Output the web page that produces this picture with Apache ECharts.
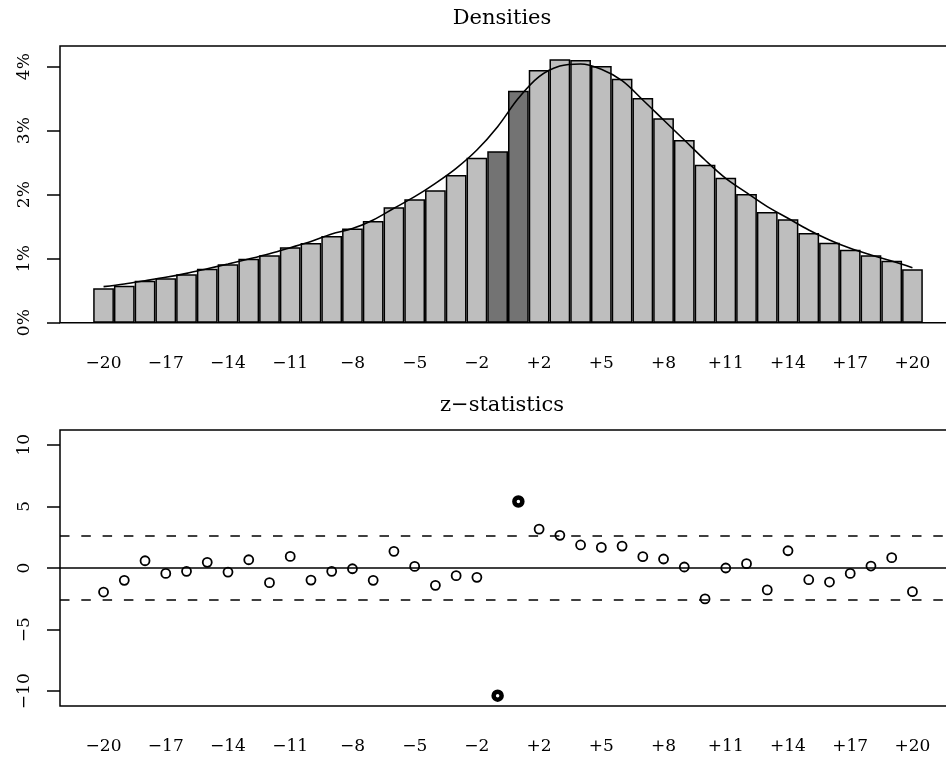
<!DOCTYPE html>
<html><head><meta charset="utf-8">
<script src="https://cdn.jsdelivr.net/npm/echarts@6/dist/echarts.min.js"></script>
<style>html,body{margin:0;padding:0;background:#fff}#c{width:946px;height:760px}</style>
</head><body><div id="c"></div>
<script>
// ---- data ----
const categories = ['−20','−19','−18','−17','−16','−15','−14','−13','−12','−11','−10','−9','−8','−7','−6','−5','−4','−3','−2','−1',
                    '+1','+2','+3','+4','+5','+6','+7','+8','+9','+10','+11','+12','+13','+14','+15','+16','+17','+18','+19','+20'];
const tickLabels = ['−20','−17','−14','−11','−8','−5','−2','+2','+5','+8','+11','+14','+17','+20'];
const flagged = ['−1','+1'];
// histogram densities (percent)
const densities = [0.537,0.578,0.656,0.693,0.756,0.844,0.912,1.000,1.053,1.178,1.245,1.355,1.470,1.589,1.803,1.928,2.069,2.308,2.578,2.678,
                   3.625,3.948,4.115,4.104,4.010,3.813,3.510,3.193,2.855,2.469,2.266,2.011,1.730,1.615,1.402,1.250,1.140,1.053,0.969,0.834];
// fitted density curve (percent)
const fitted = [0.563,0.605,0.656,0.709,0.771,0.844,0.917,0.995,1.078,1.172,1.270,1.386,1.470,1.605,1.787,1.969,2.178,2.412,2.698,3.063,
                3.506,3.844,4.010,4.042,3.960,3.781,3.480,3.167,2.855,2.542,2.255,2.031,1.813,1.631,1.448,1.292,1.162,1.058,0.964,0.859];
// z statistics
const zStats = [-1.95,-1.00,0.59,-0.44,-0.27,0.46,-0.33,0.67,-1.19,0.94,-0.98,-0.27,-0.06,-1.00,1.35,0.13,-1.41,-0.62,-0.76,-10.36,
                5.40,3.16,2.65,1.87,1.67,1.78,0.92,0.73,0.08,-2.51,0.00,0.35,-1.78,1.40,-0.95,-1.14,-0.44,0.16,0.84,-1.92];
const zCritical = 2.576;
const densityTicks = [0,1,2,3,4];
const zTicks = [-10,-5,0,5,10];

// ---- chart ----
const FONT = 'DejaVu Serif';
const tickIdx = tickLabels.map(l => categories.indexOf(l));
const chart = echarts.init(document.getElementById('c'), null, {renderer:'canvas'});

function xAxis(g){
  return {type:'value', gridIndex:g, min:-2.1, max:41.1,
    axisLine:{show:false, onZero:false}, axisTick:{show:false}, splitLine:{show:false},
    axisLabel:{customValues:tickIdx, formatter:v=>categories[Math.round(v)], margin:32,
      fontFamily:FONT, fontSize:17, color:'#000'}};
}
function yAxis(g,min,max,ticks,fmt){
  return {type:'value', gridIndex:g, min:min, max:max,
    axisLine:{show:false, onZero:false}, splitLine:{show:false},
    axisTick:{show:true, customValues:ticks, length:13, lineStyle:{color:'#000', width:1.5}},
    axisLabel:{customValues:ticks, rotate:90, margin:27, formatter:fmt,
      fontFamily:FONT, fontSize:17, color:'#000'}};
}

chart.setOption({
  animation:false,
  backgroundColor:'#fff',
  title:[
    {text:'Densities', left:502, top:8, textAlign:'center', padding:0,
     textStyle:{fontFamily:FONT, fontSize:21, fontWeight:'normal', color:'#000'}},
    {text:'z−statistics', left:502, top:395, textAlign:'center', padding:0,
     textStyle:{fontFamily:FONT, fontSize:21, fontWeight:'normal', color:'#000'}}
  ],
  grid:[
    {left:60, width:896, top:46, height:276.7, outerBoundsMode:'none', containLabel:false,
     show:true, borderColor:'#000', borderWidth:1.5},
    {left:60, width:896, top:430, height:276, outerBoundsMode:'none', containLabel:false,
     show:true, borderColor:'#000', borderWidth:1.5}
  ],
  xAxis:[xAxis(0), xAxis(1)],
  yAxis:[yAxis(0,0,4.323,densityTicks,v=>v+'%'), yAxis(1,-11.2,11.2,zTicks,v=>String(v).replace('-','−'))],
  series:[
    {type:'bar', xAxisIndex:0, yAxisIndex:0, barWidth:'100%', silent:true,
     itemStyle:{borderColor:'#000', borderWidth:1.5},
     data:densities.map((v,i)=>({value:[i,v], itemStyle:{color: flagged.includes(categories[i]) ? '#737373' : '#bebebe'}}))},
    {type:'line', xAxisIndex:0, yAxisIndex:0, smooth:0.35, symbol:'none', silent:true, z:3,
     lineStyle:{color:'#000', width:1.6},
     data:fitted.map((v,i)=>[i,v])},
    {type:'scatter', xAxisIndex:1, yAxisIndex:1, silent:true, z:3,
     data:zStats.map((v,i)=>{
       const f = flagged.includes(categories[i]);
       return {value:[i,v], symbolSize: f ? 8 : 9,
         itemStyle:{color:'transparent', borderColor:'#000', borderWidth: f ? 4.5 : 1.8, opacity:1}};
     }),
     markLine:{silent:true, symbol:'none', label:{show:false},
       lineStyle:{color:'#000', width:1.6},
       data:[
         {yAxis:0, lineStyle:{type:'solid'}},
         {yAxis:zCritical, lineStyle:{type:[9.5,11.8]}},
         {yAxis:-zCritical, lineStyle:{type:[9.5,11.8]}}
       ]}}
  ]
});
</script></body></html>
